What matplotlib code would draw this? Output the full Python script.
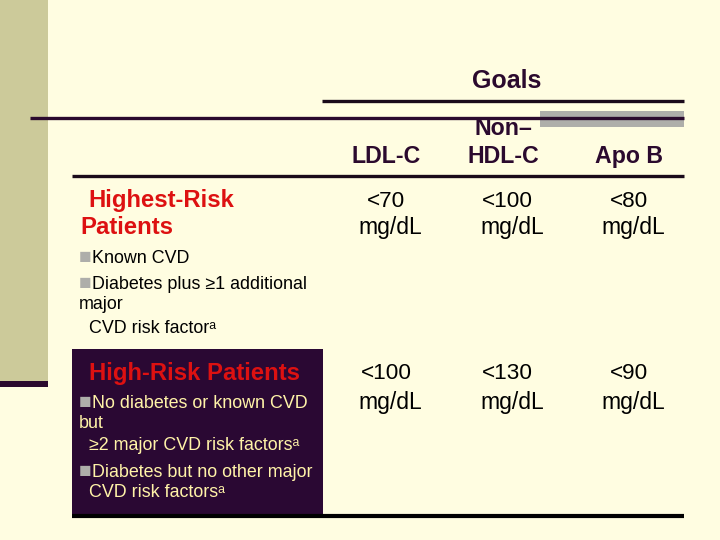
import matplotlib.pyplot as plt
from matplotlib.patches import Rectangle

# table content
goal_columns = ['LDL-C', 'Non–', 'Apo B']
goal_columns_2nd = ['', 'HDL-C', '']
highest_risk_goals = [70, 100, 80]
high_risk_goals = [100, 130, 90]
unit = 'mg/dL'

highest_title = ['Highest-Risk', 'Patients']
highest_items = ['\u25a0Known CVD', '\u25a0Diabetes plus \u22651 additional', 'major',
                 '  CVD risk factor\u1d43']
high_title = 'High-Risk Patients'
high_items = ['\u25a0No diabetes or known CVD', 'but', '  \u22652 major CVD risk factors\u1d43',
              '\u25a0Diabetes but no other major', '  CVD risk factors\u1d43']

CREAM = '#FFFDE1'
SIDEBAR = '#CCCA9A'
PURPLE = '#2B0A2E'
BOX = '#2A0833'
RED = '#DD1111'
BOXTEXT = '#FFF3A8'
GRAY = '#AEAEAA'
FONT = ['Liberation Sans', 'DejaVu Sans']

plt.rcParams['font.family'] = FONT

fig = plt.figure(figsize=(7.2, 5.4), dpi=100)
fig.patch.set_facecolor(CREAM)
ax = fig.add_axes([0, 0, 1, 1])
ax.set_xlim(0, 720)
ax.set_ylim(540, 0)
ax.axis('off')

# decoration
ax.add_patch(Rectangle((0, 0), 48, 381, color=SIDEBAR, lw=0))
ax.add_patch(Rectangle((0, 381), 48, 6, color=PURPLE, lw=0))
ax.add_patch(Rectangle((540, 111), 144, 16, color=GRAY, lw=0))
ax.plot([30, 684], [117.5, 117.5], color=PURPLE, lw=2.4, solid_capstyle='butt', zorder=3)
ax.plot([322, 684], [100.5, 100.5], color='#1a0a1a', lw=2.4, solid_capstyle='butt')
ax.plot([72, 684], [175.5, 175.5], color='#1a0a1a', lw=2.4, solid_capstyle='butt')
ax.add_patch(Rectangle((72, 349), 251, 166, color=BOX, lw=0))
ax.plot([72, 684], [516, 516], color='black', lw=3.0, solid_capstyle='butt')

# header
ax.text(507, 88, 'Goals', ha='center', va='baseline', fontsize=18,
        fontweight='bold', color=PURPLE)
head_x = [386, 503, 629]
for x, a, b in zip(head_x, goal_columns, goal_columns_2nd):
    if b:
        ax.text(x, 135, a, ha='center', va='baseline', fontsize=16.7,
                fontweight='bold', color=PURPLE)
        ax.text(x, 163, b, ha='center', va='baseline', fontsize=16.7,
                fontweight='bold', color=PURPLE)
    else:
        ax.text(x, 163, a, ha='center', va='baseline', fontsize=16.7,
                fontweight='bold', color=PURPLE)

# goal values
val_x = [386, 507, 629]
unit_x = [390, 512, 633]
for row_vals, y1, y2 in [(highest_risk_goals, 207, 234), (high_risk_goals, 379, 409)]:
    for xv, xu, v in zip(val_x, unit_x, row_vals):
        ax.text(xv, y1, '<%d' % v, ha='center', va='baseline', fontsize=16.2, color='black')
        ax.text(xu, y2, unit, ha='center', va='baseline', fontsize=16.5, color='black')

# highest-risk row labels
ax.text(88, 207, highest_title[0], ha='left', va='baseline', fontsize=17.2,
        fontweight='bold', color=RED)
ax.text(80, 234, highest_title[1], ha='left', va='baseline', fontsize=17.2,
        fontweight='bold', color=RED)


def bullet_line(x, y, s, color):
    if s.startswith('\u25a0'):
        ax.text(x, y, '\u25a0', ha='left', va='baseline', fontsize=15, color=GRAY)
        ax.text(x + 13, y, s[1:], ha='left', va='baseline', fontsize=12.9, color=color)
    else:
        ax.text(x, y, s, ha='left', va='baseline', fontsize=12.9, color=color)


for s, y in zip(highest_items, [263, 289, 309, 333]):
    bullet_line(79, y, s, 'black')

# high-risk box
ax.text(89, 380, high_title, ha='left', va='baseline', fontsize=17.2,
        fontweight='bold', color=RED)
for s, y in zip(high_items, [408, 428, 450, 477, 497]):
    bullet_line(79, y, s, BOXTEXT)

fig.savefig('out.png', dpi=100, facecolor=CREAM)
